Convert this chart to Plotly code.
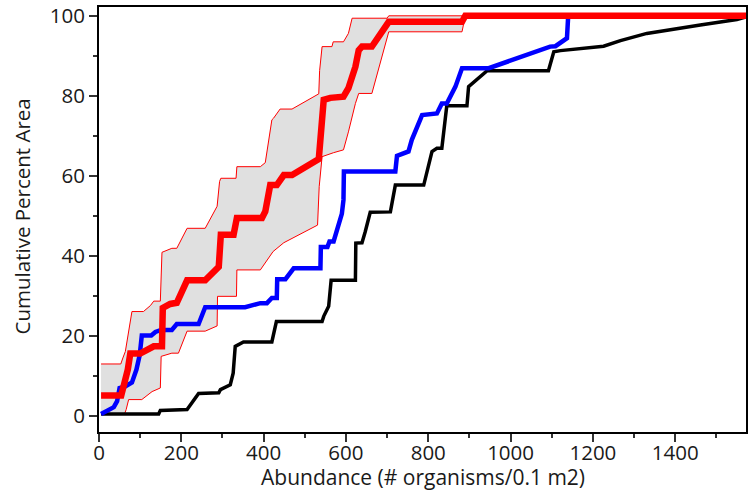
import plotly.graph_objects as go

# ---- data ----
median_x = [5, 54, 70, 76, 100, 121, 133, 153, 155, 173, 189, 214, 258, 291, 296, 327, 335, 396, 404, 416, 432, 449, 469, 534, 538, 546, 562, 594, 606, 623, 631, 639, 663, 704, 882, 890, 1572]
median_y = [5.1, 5.1, 11.6, 15.6, 15.6, 16.6, 17.4, 17.4, 27.0, 28.0, 28.3, 33.9, 33.9, 37.3, 45.3, 45.3, 49.5, 49.5, 51.1, 57.7, 57.7, 60.2, 60.2, 64.2, 70.6, 79.0, 79.5, 79.8, 81.9, 87.3, 91.4, 92.3, 92.3, 98.5, 98.5, 100, 100]

upper_x = [5, 53, 58, 64, 80, 108, 125, 133, 149, 153, 177, 189, 214, 258, 287, 293, 296, 333, 335, 392, 404, 420, 424, 440, 469, 534, 536, 542, 566, 569, 594, 606, 615, 700, 704, 890]
upper_y = [13, 13, 14.5, 16.1, 26.1, 26.1, 27.6, 28.7, 28.7, 40.9, 41.9, 41.9, 46.9, 46.9, 52.4, 58.6, 59.4, 59.4, 62.3, 62.3, 63.3, 74.0, 74.4, 76.7, 76.7, 80.5, 86.3, 92.3, 92.3, 93.5, 93.5, 95.6, 99.4, 99.4, 100, 100]

lower_x = [5, 62, 66, 72, 104, 129, 149, 151, 177, 193, 214, 258, 287, 288, 334, 335, 392, 423, 449, 531, 535, 542, 570, 594, 606, 623, 631, 663, 704, 882, 890]
lower_y = [0.5, 0.5, 1.6, 4.1, 4.1, 6.1, 7.0, 14.9, 15.7, 15.7, 21.2, 21.2, 22.5, 29.9, 29.9, 36.5, 36.5, 41.1, 43.3, 47.7, 57.3, 64.8, 65.8, 66.5, 71.0, 78.1, 80.6, 80.6, 96.0, 96.0, 100]

blue_x = [5, 23, 32, 36, 44, 50, 64, 80, 91, 99, 104, 127, 137, 151, 177, 189, 242, 258, 355, 376, 392, 408, 420, 432, 433, 453, 473, 538, 539, 555, 560, 570, 582, 590, 594, 595, 720, 724, 752, 760, 785, 821, 833, 845, 866, 882, 947, 1096, 1109, 1137, 1140, 1572]
blue_y = [0.5, 1.4, 1.9, 2.2, 3.7, 7.0, 7.4, 8.4, 11.6, 15.3, 20.1, 20.1, 21.0, 21.5, 21.5, 23.0, 23.0, 27.2, 27.2, 27.8, 28.2, 28.2, 29.5, 29.5, 34.2, 34.2, 36.9, 36.9, 42.2, 42.2, 43.6, 43.6, 47.3, 50.5, 54.0, 61.1, 61.1, 65.0, 66.1, 69.0, 75.2, 75.6, 78.1, 78.1, 82.3, 86.9, 86.9, 92.3, 92.4, 94.4, 100, 100]

black_x = [5, 145, 149, 214, 242, 291, 295, 319, 326, 331, 351, 420, 431, 542, 546, 558, 564, 623, 624, 639, 647, 659, 708, 720, 789, 809, 821, 833, 845, 894, 898, 943, 1092, 1105, 1121, 1194, 1226, 1267, 1331, 1461, 1550, 1572]
black_y = [0.5, 0.5, 1.4, 1.6, 5.6, 5.8, 6.6, 7.8, 10.7, 17.4, 18.5, 18.5, 23.6, 23.6, 24.9, 27.4, 33.9, 33.9, 43.2, 43.3, 46.1, 50.9, 51.0, 57.7, 57.7, 66.1, 66.9, 66.9, 77.5, 77.5, 82.3, 86.3, 86.3, 91.0, 91.3, 92.0, 92.4, 93.8, 95.6, 97.7, 99.1, 99.7]

x_ticks = [0, 200, 400, 600, 800, 1000, 1200, 1400]
y_ticks = [0, 20, 40, 60, 80, 100]

FONT = "Open Sans"

fig = go.Figure()

# shaded band between lower and upper bounds
band_x = upper_x + lower_x[::-1]
band_y = upper_y + lower_y[::-1]
fig.add_trace(go.Scatter(x=band_x, y=band_y, mode="lines", fill="toself",
                         fillcolor="#e0e0e0", line=dict(width=0), hoverinfo="skip"))
fig.add_trace(go.Scatter(x=upper_x, y=upper_y, mode="lines", line=dict(color="#ff0000", width=1)))
fig.add_trace(go.Scatter(x=lower_x, y=lower_y, mode="lines", line=dict(color="#ff0000", width=1)))
fig.add_trace(go.Scatter(x=black_x, y=black_y, mode="lines", line=dict(color="#000000", width=3.5)))
fig.add_trace(go.Scatter(x=blue_x, y=blue_y, mode="lines", line=dict(color="#0000ff", width=4.5)))
fig.add_trace(go.Scatter(x=median_x, y=median_y, mode="lines", line=dict(color="#ff0000", width=6.5)))

axis_common = dict(
    showgrid=False, zeroline=False, showline=True, linecolor="#000000", linewidth=2,
    mirror=True, ticks="outside", ticklen=8, tickwidth=1.5, tickcolor="#333333",
    tickfont=dict(family=FONT, size=20.5, color="#1a1a1a"), automargin=False,
)

fig.update_layout(
    width=752, height=496,
    margin=dict(l=99, r=6, t=7, b=64, autoexpand=False),
    paper_bgcolor="white", plot_bgcolor="white",
    showlegend=False,
    font=dict(family=FONT, color="#1a1a1a"),
    xaxis=dict(range=[0, 1572], tickvals=x_ticks, ticklabelstandoff=-7,
               minor=dict(dtick=100, ticks="outside", ticklen=4, tickwidth=1.5, tickcolor="#333333"),
               **axis_common),
    yaxis=dict(range=[-4, 102.2], tickvals=y_ticks,
               minor=dict(dtick=10, ticks="outside", ticklen=4, tickwidth=1.5, tickcolor="#333333"),
               **axis_common),
    annotations=[
        dict(text="Abundance (# organisms/0.1 m2)", xref="paper", yref="paper",
             x=0.5, y=-0.1052, xanchor="center", yanchor="middle", showarrow=False,
             font=dict(family=FONT, size=21, color="#1a1a1a")),
        dict(text="Cumulative Percent Area", xref="paper", yref="paper",
             x=-0.1185, y=0.508, xanchor="center", yanchor="middle", showarrow=False,
             textangle=-90, font=dict(family=FONT, size=20.5, color="#1a1a1a")),
    ],
)

fig.write_html("out.html")
